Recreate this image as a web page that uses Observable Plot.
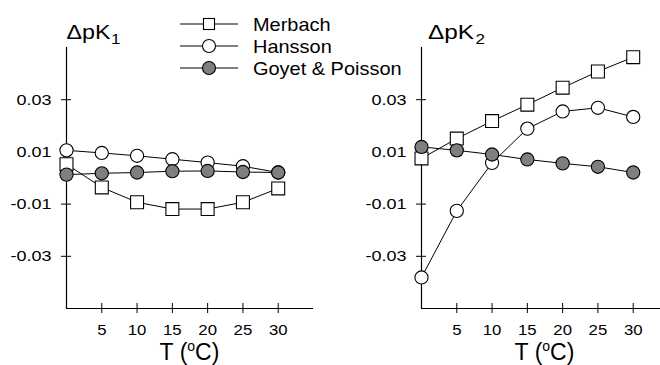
<!DOCTYPE html>
<html><head><meta charset="utf-8">
<script src="https://cdn.jsdelivr.net/npm/d3@7"></script>
<script src="https://cdn.jsdelivr.net/npm/@observablehq/plot@0.6"></script>
<style>
html,body{margin:0;padding:0;background:#fff;overflow:hidden}
#wrap{position:relative;width:660px;height:365px;overflow:hidden;background:#fff}
#wrap > svg{position:absolute;top:0}
</style></head><body><div id="wrap"></div>
<script>
// ---- data ----
const T = [0, 5, 10, 15, 20, 25, 30];
const seriesNames = ["Merbach", "Hansson", "Goyet & Poisson"];
// ΔpK1
const merbach1 = [0.0053, -0.0036, -0.0093, -0.0119, -0.0119, -0.0093, -0.0040];
const hansson1 = [0.0106, 0.0096, 0.0085, 0.0072, 0.0059, 0.0045, 0.0021];
const goyet1   = [0.0013, 0.0018, 0.0021, 0.0026, 0.0027, 0.0023, 0.0021];
// ΔpK2
const merbach2 = [0.0075, 0.0151, 0.0218, 0.0281, 0.0346, 0.0408, 0.0463];
const hansson2 = [-0.0381, -0.0126, 0.0058, 0.0189, 0.0255, 0.0269, 0.0234];
const goyet2   = [0.0119, 0.0106, 0.0090, 0.0071, 0.0056, 0.0043, 0.0021];
const xTicks = [5, 10, 15, 20, 25, 30];
const xTickLabels = ["5", "10", "15", "20", "25", "30"];
const yTicks = [0.03, 0.01, -0.01, -0.03];
const yTickLabels = ["0.03", "0.01", "-0.01", "-0.03"];
const xDomain = [0, 35];
const yDomain = [-0.05, 0.05];
const panelTitles = [["ΔpK", "1"], ["ΔpK", "2"]];
const xLabelParts = ["T (", "o", "C)"];

// ---- styles ----
const FONT = '"Liberation Sans", Arial, Helvetica, sans-serif';
const markerStyle = {
  "Merbach": {symbol: "square", fill: "white", r: 7.3},
  "Hansson": {symbol: "circle", fill: "white", r: 6.6},
  "Goyet & Poisson": {symbol: "circle", fill: "#7f7f7f", r: 6.6}
};
const wrap = document.getElementById("wrap");

function stretch(nodes, f) {
  nodes.forEach(t => {
    const w = t.getComputedTextLength();
    t.setAttribute("textLength", w * f);
    t.setAttribute("lengthAdjust", "spacingAndGlyphs");
  });
}

function panel(seriesVals, left) {
  const rows = [];
  seriesVals.forEach((vals, i) => T.forEach((t, j) => rows.push({series: seriesNames[i], T: t, v: vals[j]})));
  const marks = [
    Plot.ruleX([xDomain[0]], {stroke: "black", strokeWidth: 1.2}),
    Plot.ruleY([yDomain[0]], {stroke: "black", strokeWidth: 1.2}),
    Plot.axisY({ticks: yTicks, tickFormat: d => yTickLabels[yTicks.indexOf(d)], tickSize: 10, tickPadding: 10, dx: 5, label: null, stroke: "black", fill: "black"}),
    Plot.axisX({ticks: xTicks, tickFormat: d => xTickLabels[xTicks.indexOf(d)], tickSize: 10, tickPadding: 10, dy: -5, label: null, stroke: "black", fill: "black"}),
    Plot.line(rows, {x: "T", y: "v", z: "series", stroke: "black", strokeWidth: 1}),
    ...seriesNames.map(name => Plot.dot(rows.filter(r => r.series === name), {
      x: "T", y: "v", symbol: markerStyle[name].symbol, r: markerStyle[name].r,
      fill: markerStyle[name].fill, stroke: "black", strokeWidth: 1.1
    }))
  ];
  const svg = Plot.plot({
    width: 330, height: 365,
    marginLeft: 66, marginRight: 17, marginTop: 47, marginBottom: 57,
    x: {domain: xDomain, label: null},
    y: {domain: yDomain, label: null},
    style: {fontFamily: FONT, fontSize: "15.5px", color: "black", background: "transparent", overflow: "visible"},
    marks
  });
  svg.style.left = left + "px";
  wrap.appendChild(svg);
  stretch(svg.querySelectorAll('g[aria-label="y-axis tick label"] text'), 1.16);
  stretch(svg.querySelectorAll('g[aria-label="x-axis tick label"] text'), 1.08);
}

panel([merbach1, hansson1, goyet1], 0);
panel([merbach2, hansson2, goyet2], 355);

// ---- overlay: titles, axis labels, legend ----
const ov = d3.select(wrap).append("svg")
  .attr("width", 660).attr("height", 365)
  .style("left", "0px").style("font-family", FONT).style("pointer-events", "none");

const titlePos = [{x: 66.5, w: 44, sx: 111}, {x: 428, w: 46, sx: 475.5}];
panelTitles.forEach((tt, i) => {
  ov.append("text").attr("x", titlePos[i].x).attr("y", 39).attr("font-size", 20)
    .attr("textLength", titlePos[i].w).attr("lengthAdjust", "spacingAndGlyphs").text(tt[0]);
  ov.append("text").attr("x", titlePos[i].sx).attr("y", 44).attr("font-size", 14)
    .attr("textLength", 9.5).attr("lengthAdjust", "spacingAndGlyphs").text(tt[1]);
});

[189.5, 544.5].forEach(cx => {
  const t = ov.append("text").attr("x", cx).attr("y", 360).attr("font-size", 23).attr("text-anchor", "middle");
  t.append("tspan").text(xLabelParts[0]);
  t.append("tspan").attr("font-size", 14).attr("dy", -9).text(xLabelParts[1]);
  t.append("tspan").attr("dy", 9).text(xLabelParts[2]);
});

const legY = [24, 46, 68];
seriesNames.forEach((name, i) => {
  const g = ov.append("g");
  g.append("line").attr("x1", 180).attr("x2", 238).attr("y1", legY[i]).attr("y2", legY[i]).attr("stroke", "black").attr("stroke-width", 1);
  const st = markerStyle[name];
  if (st.symbol === "square") {
    g.append("rect").attr("x", 209 - 5.5).attr("y", legY[i] - 5.5).attr("width", 11).attr("height", 11)
      .attr("fill", st.fill).attr("stroke", "black").attr("stroke-width", 1.1);
  } else {
    g.append("circle").attr("cx", 209).attr("cy", legY[i]).attr("r", 6.5)
      .attr("fill", st.fill).attr("stroke", "black").attr("stroke-width", 1.1);
  }
  const tx = g.append("text").attr("x", 253).attr("y", legY[i] + 6.8).attr("font-size", 19).text(name);
  stretch([tx.node()], 1.05);
});
</script>
</body></html>
